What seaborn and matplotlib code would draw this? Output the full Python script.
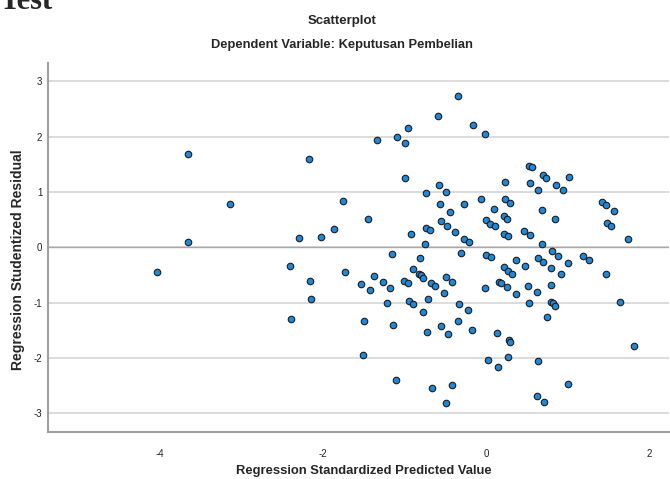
import matplotlib
matplotlib.use("Agg")
import matplotlib.pyplot as plt
import seaborn as sb

pred_x = [-3.66, -3.14, -3.66, -4.04, -0.59, -0.96, -1.34, -1.09, -1.00, -2.17,
          -1.00, -1.75, -0.74, -0.58, -0.49, -0.57, -0.45, -1.45, -1.86, -2.02,
          -2.29, -0.92, -0.74, -0.69, -0.55, -0.48, -0.75, -1.16, -0.81, -0.34,
          -0.16, -0.01, 0.52, 0.56, 0.69, 0.73, 1.01, 0.23, 0.53, 0.85,
          0.64, 0.94, -0.06, -0.27, 0.23, 0.29, 0.09, 0.68, 1.42, 1.47,
          1.57, 0.22, 0.26, 0.84, 0.00, 0.05, 0.11, -0.38, -0.27, -0.21,
          0.22, 0.27, 0.46, 0.53, 1.48, 1.53, 1.74, 0.68, -0.31, 0.00,
          0.06, 0.37, 0.63, 0.80, 0.88, 1.18, 1.26, -2.40, -1.73, -2.16,
          -1.54, -1.37, -1.27, -1.42, -1.18, -0.90, -0.83, -0.80, -0.77, -1.01,
          -0.96, -0.68, -0.63, -0.49, -0.52, -2.15, -1.22, -0.95, -0.90, -0.71,
          -0.78, -2.39, -1.50, -1.14, -0.73, -0.55, -0.47, -1.51, -1.10, -0.67,
          -0.49, 0.69, 0.79, 1.00, 1.47, 0.91, 0.47, 0.22, 0.27, 0.32,
          -0.42, -0.02, 0.16, 0.18, 0.25, 0.37, 0.51, 0.62, 0.79, 0.52,
          0.79, 0.82, 0.84, -0.33, -0.22, 0.74, 1.64, -0.34, -0.17, 0.13,
          0.28, 0.29, 0.02, 0.15, 0.27, 0.63, 1.81, -0.42, 1.00, 0.62, 0.71]
resid_y = [1.68, 0.78, 0.10, -0.44, 2.37, 2.16, 1.95, 2.00, 1.89, 1.60,
           1.26, 0.84, 0.98, 1.12, 1.01, 0.79, 0.64, 0.51, 0.33, 0.19,
           0.17, 0.24, 0.35, 0.31, 0.47, 0.38, 0.06, -0.12, -0.19, 2.74,
           2.22, 2.05, 1.47, 1.45, 1.30, 1.25, 1.27, 1.18, 1.16, 1.13,
           1.04, 1.03, 0.87, 0.78, 0.87, 0.80, 0.70, 0.68, 0.82, 0.76,
           0.65, 0.56, 0.51, 0.51, 0.49, 0.43, 0.38, 0.28, 0.15, 0.10,
           0.25, 0.20, 0.29, 0.23, 0.44, 0.39, 0.15, 0.06, -0.11, -0.13,
           -0.18, -0.22, -0.19, -0.07, -0.16, -0.16, -0.23, -0.34, -0.45, -0.60,
           -0.66, -0.52, -0.62, -0.78, -0.74, -0.40, -0.48, -0.50, -0.55, -0.60,
           -0.65, -0.64, -0.69, -0.53, -0.82, -0.94, -1.00, -0.97, -1.03, -0.93,
           -1.16, -1.30, -1.33, -1.41, -1.53, -1.42, -1.57, -1.95, -2.39, -2.55,
           -2.81, -0.27, -0.37, -0.29, -0.49, -0.49, -0.34, -0.36, -0.43, -0.48,
           -0.62, -0.74, -0.62, -0.65, -0.72, -0.85, -0.69, -0.81, -0.68, -1.01,
           -0.99, -1.01, -1.06, -1.02, -1.13, -1.26, -0.98, -1.33, -1.50, -1.54,
           -1.68, -1.71, -2.04, -2.16, -1.98, -2.06, -1.79, -2.48, -2.47, -2.68, -2.80]

x_ticks = [-4, -2, 0, 2]
y_ticks = [-3, -2, -1, 0, 1, 2, 3]

sb.set_style("white")
plt.rcParams['font.family'] = ['Liberation Sans Narrow', 'Liberation Sans', 'DejaVu Sans']

fig = plt.figure(figsize=(6.7, 4.79), dpi=100)
ax = fig.add_axes([0.0716, 0.098, 0.927, 0.770])

for v in y_ticks:
    ax.axhline(v, color='#d6d6d6', lw=1.2, zorder=0)
ax.axhline(0, color='#a8a8a8', lw=1.0, zorder=0)

sb.scatterplot(x=pred_x, y=resid_y, ax=ax, color='#1E88D9', edgecolor='#1c1c1c',
               s=22, linewidth=0.8, zorder=3)

ax.set_xlim(-5.37, 2.24)
ax.set_ylim(-3.34, 3.33)
ax.set_xticks(x_ticks)
ax.set_yticks(y_ticks)
ax.set_xticklabels([str(t) for t in x_ticks])
ax.set_yticklabels([str(t) for t in y_ticks])
ax.tick_params(axis='x', length=0, pad=12, labelsize=7, colors='#222222')
ax.tick_params(axis='y', length=0, pad=4, labelsize=7, colors='#222222')

for side in ['top', 'right']:
    ax.spines[side].set_visible(False)
for side in ['left', 'bottom']:
    ax.spines[side].set_color('#a0a0a0')
    ax.spines[side].set_linewidth(1.5)

fig.text(0.511, 0.956, 'Scatterplot', ha='center', va='center', fontsize=9.5, fontweight='bold')
fig.text(0.511, 0.906, 'Dependent Variable: Keputusan Pembelian', ha='center', va='center',
         fontsize=9.3, fontweight='bold')
fig.text(0.543, 0.016, 'Regression Standardized Predicted Value', ha='center', va='center',
         fontsize=9.4, fontweight='bold', family=['Liberation Sans', 'DejaVu Sans'])
fig.text(0.027, 0.457, 'Regression Studentized Residual', ha='center', va='center',
         rotation=90, fontsize=10, fontweight='bold', family=['Liberation Sans', 'DejaVu Sans'])
fig.text(0.0, 0.981, 'Test', ha='left', va='baseline', fontsize=22, fontweight='bold',
         family=['Liberation Serif', 'DejaVu Serif'])

plt.savefig('out.png', dpi=100)
plt.close()
